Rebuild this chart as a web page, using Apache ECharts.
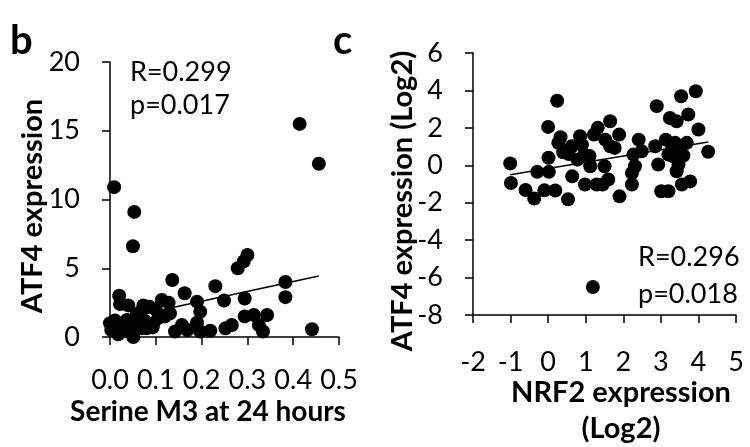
<!DOCTYPE html>
<html>
<head>
<meta charset="utf-8">
<script src="https://cdn.jsdelivr.net/npm/echarts@6/dist/echarts.min.js"></script>
<style>
  html, body { margin: 0; padding: 0; background: #fff; }
  #chart { width: 750px; height: 447px; }
</style>
</head>
<body>
<div id="chart"></div>
<script>
// Panel b: Serine M3 labelling at 24 h vs ATF4 expression
const serineM3 = [0.009,0.053,0.050,0.414,0.456,0.441,0.383,0.383,0.300,0.292,0.279,0.294,0.294,0.314,0.343,0.325,0.334,0.230,0.249,0.266,0.252,0.219,0.197,0.190,0.197,0.190,0.163,0.157,0.169,0.142,0.136,0.128,0.131,0.113,0.106,0.095,0.086,0.073,0.080,0.066,0.051,0.040,0.020,0.022,0.011,0.007,0.029,0.037,0.051,0.058,0.069,0.003,0.015,0.045,0.062,0.075,0.100,0.120,0.093,0.030,0.040,0.000,0.018];
const atf4B    = [10.9,9.1,6.6,15.5,12.6,0.56,4.0,2.9,5.96,5.5,5.0,2.8,1.5,1.6,1.6,0.87,0.4,3.7,2.65,0.87,0.63,0.45,0.4,2.57,1.84,1.04,3.18,0.87,0.51,0.4,4.15,2.5,1.72,2.69,1.4,1.0,2.2,2.3,0.63,1.8,0.0,2.3,3.0,2.4,1.2,0.55,0.5,1.24,0.75,1.6,0.63,0.5,0.8,0.3,1.1,1.2,2.0,1.5,0.7,1.0,0.6,1.0,0.2];
const trendBX = [0.0, 0.456];
const trendBY = [1.17, 4.44];
const ticksBX = [0, 0.5, 0.1];
const ticksBY = [0, 20, 5];

// Panel c: NRF2 vs ATF4 expression (log2)
const nrf2 = [-1.01,-0.99,-0.60,-0.37,-0.29,-0.10,0.01,0.02,0.00,0.19,0.24,0.33,0.27,0.40,0.55,0.64,0.53,0.63,0.85,0.90,0.96,1.12,0.98,1.22,1.32,1.29,1.45,1.50,1.52,1.65,1.65,1.60,1.77,1.89,1.90,1.19,2.23,2.23,2.27,2.41,2.49,2.31,2.89,2.85,2.93,3.01,3.20,3.13,3.24,3.20,3.42,3.54,3.38,3.47,3.42,3.56,3.69,3.73,3.78,3.60,3.93,4.00,4.26,3.33,0.78,1.10,3.30,3.50];
const atf4C = [0.1,-0.95,-1.32,-1.78,-0.35,-1.34,0.4,-0.35,2.05,-1.35,3.45,1.5,1.2,0.7,0.6,-0.59,-1.82,1.02,1.55,1.1,0.57,-0.05,-1.03,1.64,2.0,-1.03,-1.03,-0.05,1.37,2.35,1.02,-0.76,0.93,1.64,-1.66,-6.5,-0.41,-1.03,0.57,1.37,0.75,-0.05,3.16,1.02,0.04,-1.39,-1.39,1.37,2.53,0.57,2.35,3.69,1.2,0.04,-0.32,-1.03,1.2,2.71,-0.86,0.52,3.96,1.91,0.72,0.48,0.3,0.5,0.9,0.9];
const trendCX = [-1.01, 4.26];
const trendCY = [-0.5, 1.25];
const ticksCX = [-2, 5, 1];
const ticksCY = [-8, 6, 2];

const pairs = (xs, ys) => xs.map((x, i) => [x, ys[i]]);

const FONT = 'Lato, "Open Sans", sans-serif';
const tickFont = { color: '#000', fontSize: 27, fontFamily: FONT };
const axisLine = { show: true, onZero: false, lineStyle: { color: '#000', width: 1.5 } };
const axisTick = { show: true, inside: false, length: 8, lineStyle: { color: '#000', width: 1.5 } };

function valueAxis(gridIndex, t, margin, fmt) {
  return {
    type: 'value', gridIndex: gridIndex,
    min: t[0], max: t[1], interval: t[2],
    axisLine: axisLine, axisTick: axisTick,
    splitLine: { show: false },
    axisLabel: Object.assign({ margin: margin, formatter: fmt, showMinLabel: true, showMaxLabel: true, hideOverlap: false }, tickFont)
  };
}

const chart = echarts.init(document.getElementById('chart'), null, { renderer: 'canvas' });

const txt = (text, x, y, size, bold, align, rot) => ({
  type: 'text', x: x, y: y, rotation: rot || 0,
  style: { text: text, fill: '#000', fontSize: size, fontWeight: bold ? 'bold' : 'normal', fontFamily: FONT, textAlign: align || 'left', textVerticalAlign: 'middle' }
});

chart.setOption({
  animation: false,
  backgroundColor: '#fff',
  grid: [
    { left: 110, top: 62, width: 229, height: 275 },
    { left: 473, top: 53, width: 263, height: 262 }
  ],
  xAxis: [
    valueAxis(0, ticksBX, 30, v => v.toFixed(1)),
    valueAxis(1, ticksCX, 34, v => String(v))
  ],
  yAxis: [
    valueAxis(0, ticksBY, 30, v => String(v)),
    valueAxis(1, ticksCY, 30, v => String(v))
  ],
  series: [
    { type: 'scatter', xAxisIndex: 0, yAxisIndex: 0, symbolSize: 14, itemStyle: { color: '#000', opacity: 1 }, data: pairs(serineM3, atf4B) },
    { type: 'line', xAxisIndex: 0, yAxisIndex: 0, symbol: 'none', lineStyle: { color: '#000', width: 1.5 }, data: pairs(trendBX, trendBY), z: 3 },
    { type: 'scatter', xAxisIndex: 1, yAxisIndex: 1, symbolSize: 14, itemStyle: { color: '#000', opacity: 1 }, data: pairs(nrf2, atf4C) },
    { type: 'line', xAxisIndex: 1, yAxisIndex: 1, symbol: 'none', lineStyle: { color: '#000', width: 1.5 }, data: pairs(trendCX, trendCY), z: 3 }
  ],
  graphic: [
    txt('b', 10, 41, 40, true),
    txt('c', 333, 41, 40, true),
    txt('R=0.299', 130, 72, 27, false),
    txt('p=0.017', 130, 105, 27, false),
    txt('R=0.296', 638, 257, 27, false),
    txt('p=0.018', 638, 294, 27, false),
    txt('Serine M3 at 24 hours', 208, 412, 28, true, 'center'),
    txt('ATF4 expression', 33, 206, 29, true, 'center', Math.PI / 2),
    txt('ATF4 expression (Log2)', 403, 201, 29, true, 'center', Math.PI / 2),
    txt('NRF2 expression', 621, 393, 29, true, 'center'),
    txt('(Log2)', 621, 429, 29, true, 'center')
  ]
});
</script>
</body>
</html>
